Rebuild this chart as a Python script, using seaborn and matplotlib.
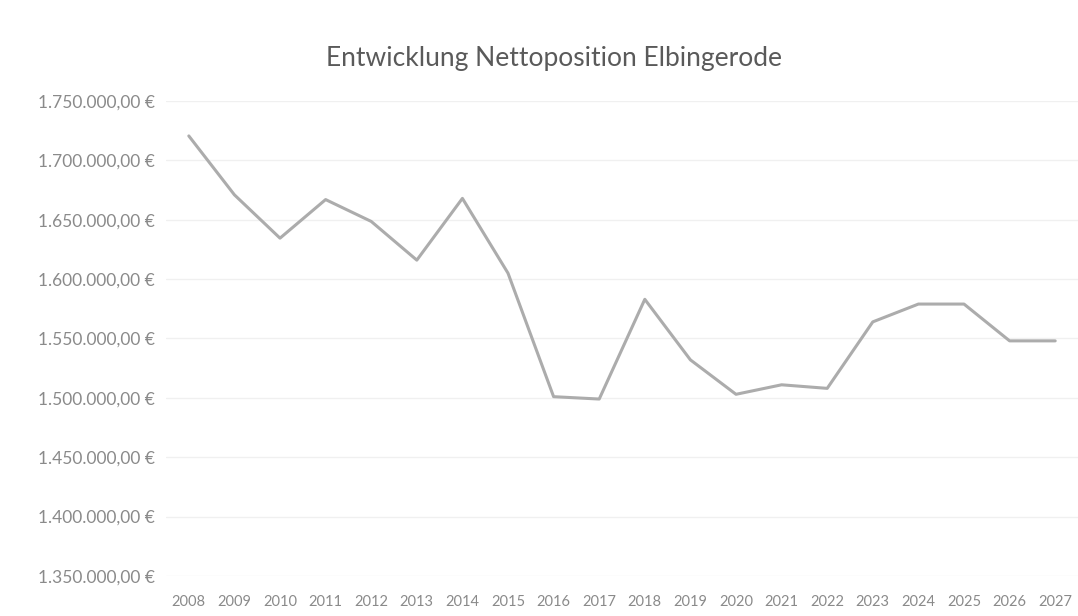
import matplotlib
matplotlib.use("Agg")
import matplotlib.pyplot as plt
import matplotlib.ticker as mticker
import pandas as pd
import seaborn as sns

years = [str(y) for y in range(2008, 2028)]
nettoposition = [1720600, 1671000, 1634500, 1667000, 1648600, 1616000, 1668000,
                 1605000, 1501000, 1499000, 1583000, 1532000, 1503000, 1511000,
                 1508000, 1564000, 1579000, 1579000, 1548000, 1548000]
title = "Entwicklung Nettoposition Elbingerode"

df = pd.DataFrame({"Jahr": years, "Wert": nettoposition})

sns.set_style("white")
plt.rcParams['font.family'] = ['Lato', 'DejaVu Sans']

fig = plt.figure(figsize=(10.78, 6.16), dpi=100)
ax = fig.add_axes([0.154, 0.065, 0.846, 0.771])

sns.lineplot(data=df, x="Jahr", y="Wert", ax=ax, color="#acacac", linewidth=2.2)

ax.set_xlim(-0.5, len(years) - 0.5)
ax.set_ylim(1350000, 1750000)
ax.yaxis.set_major_locator(mticker.MultipleLocator(50000))


def euro(v, pos):
    s = f"{v:,.2f}".replace(",", "X").replace(".", ",").replace("X", ".")
    return s + " €"


ax.yaxis.set_major_formatter(mticker.FuncFormatter(euro))
ax.grid(axis="y", color="#f0f0f0", linewidth=1)
for s in ax.spines.values():
    s.set_visible(False)
ax.tick_params(axis="both", length=0, colors="#8a8a8a")
ax.tick_params(axis="y", pad=8, labelsize=12.5)
ax.tick_params(axis="x", pad=14, labelsize=10.5)
ax.set_xlabel("")
ax.set_ylabel("")

fig.text(0.514, 0.905, title, ha="center", va="center", fontsize=19, color="#5a5a5a")

fig.savefig("out.png", dpi=100, facecolor="white")
